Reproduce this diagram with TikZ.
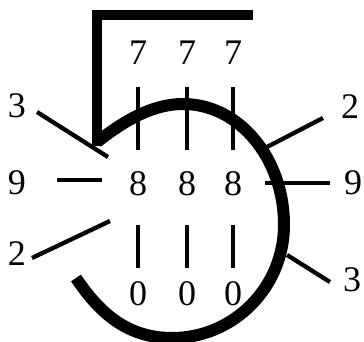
\documentclass[tikz,border=0pt]{standalone}
\usepackage{fontspec}
\setmainfont{Liberation Serif}
\begin{document}
\begin{tikzpicture}[x=1pt,y=-1pt,
  digit/.style={inner sep=0pt,font=\fontsize{36}{36}\selectfont},
  thin line/.style={line width=4.3pt},
  heavy/.style={line width=12pt},
  bracketline/.style={line width=10pt}]
\useasboundingbox (0,0) rectangle (364,342);
% bracket and arc
\draw[bracketline] (253,15) -- (97,15) -- (97,146);
\coordinate (a0) at (97,142);
\coordinate (a1) at (183,104);
\coordinate (a2) at (284,225);
\coordinate (a3) at (172,338);
\coordinate (a4) at (76,278);
\draw[heavy] (a0) .. controls (120,124) and (150,104) .. (a1)
  .. controls (239,104) and (284,158) .. (a2)
  .. controls (284,287) and (234,338) .. (a3)
  .. controls (125,338) and (97.6,310) .. (a4);
% digits
\foreach \x/\n in {138/a,187/b,233/c}{
  \node[digit] (t\n) at (\x,53) {7};
  \node[digit] (m\n) at (\x,184) {8};
  \node[digit] (b\n) at (\x,294) {0};
  \draw[thin line] (\x,87) -- (\x,150);
  \draw[thin line] (\x,225) -- (\x,268);
}
\node[digit] (l3) at (17,106) {3};
\node[digit] (l9) at (17,183) {9};
\node[digit] (l2) at (17,254) {2};
\node[digit] (r2) at (350,107) {2};
\node[digit] (r9) at (353,183) {9};
\node[digit] (r3) at (352,280) {3};
% radial lines
\draw[thin line] (37,112) -- (108,157);
\draw[thin line] (57,180) -- (102,180);
\draw[thin line] (32,258) -- (110,221);
\draw[thin line] (267,147) -- (323,118);
\draw[thin line] (265,183) -- (330,183);
\draw[thin line] (287,255) -- (330,282);
\end{tikzpicture}
\end{document}
